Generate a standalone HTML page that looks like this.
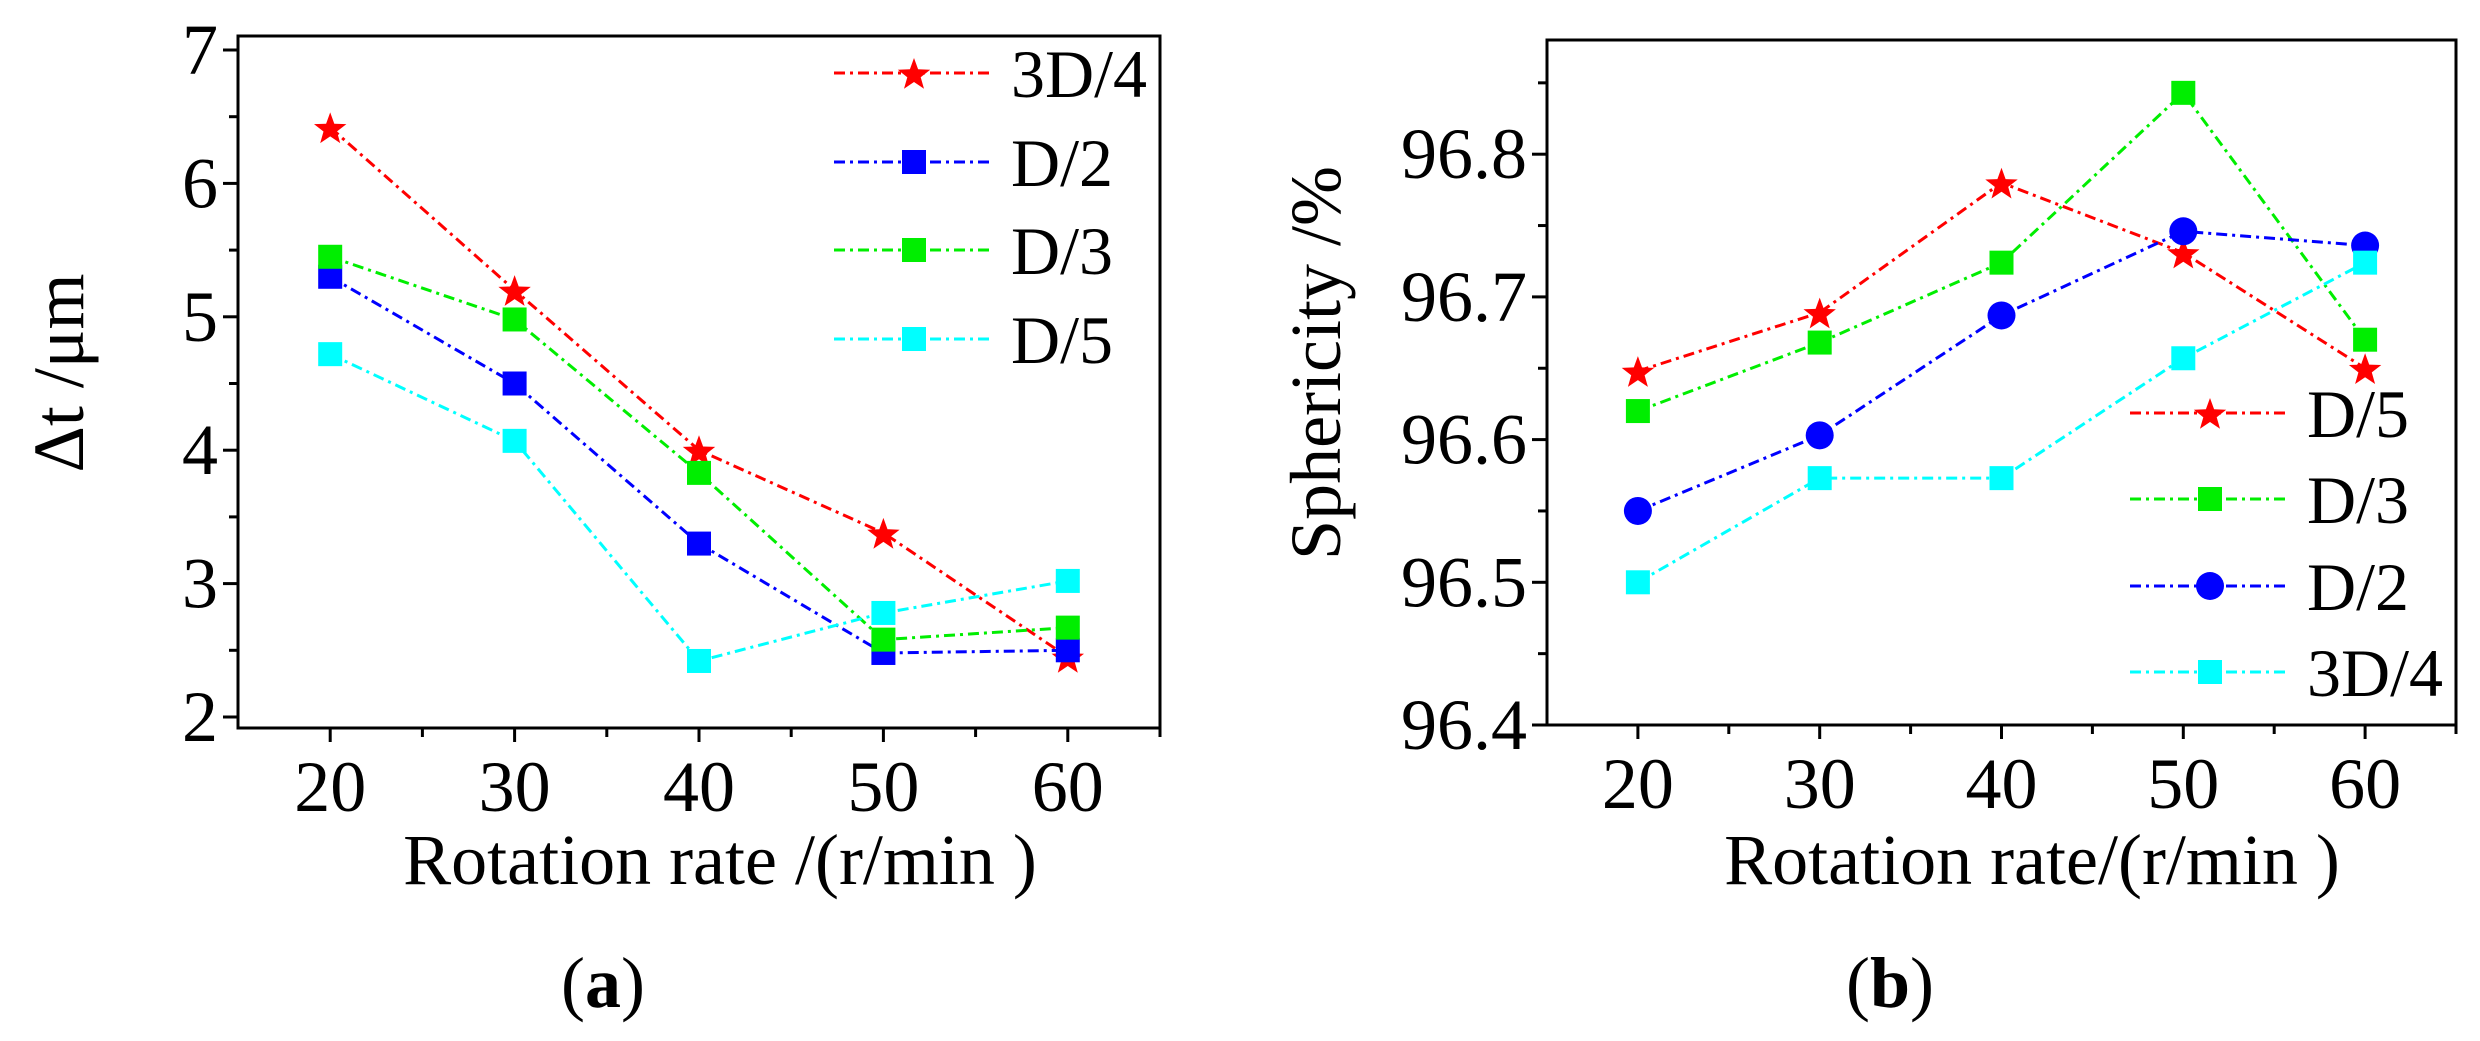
<!DOCTYPE html>
<html><head><meta charset="utf-8"><style>
html,body{margin:0;padding:0;background:#fff;}
svg, svg text{font-family:"Liberation Serif","Times New Roman","DejaVu Serif",serif;}
</style></head><body>
<svg id="chart" width="2480" height="1036" viewBox="0 0 2480 1036" xmlns="http://www.w3.org/2000/svg"></svg>
<script>
const categories = [20, 30, 40, 50, 60];
// Panel (a)
const aNames = ["3D/4", "D/2", "D/3", "D/5"];
const a3D4 = [6.42, 5.2, 4.0, 3.38, 2.45];
const aD2 = [5.3, 4.5, 3.3, 2.48, 2.5];
const aD3 = [5.45, 4.98, 3.83, 2.58, 2.67];
const aD5 = [4.72, 4.07, 2.42, 2.78, 3.02];
const aYTicks = [2, 3, 4, 5, 6, 7];
// Panel (b)
const bNames = ["D/5", "D/3", "D/2", "3D/4"];
const bD5 = [96.648, 96.689, 96.780, 96.731, 96.650];
const bD3 = [96.620, 96.668, 96.724, 96.843, 96.670];
const bD2 = [96.550, 96.603, 96.687, 96.746, 96.736];
const b3D4 = [96.500, 96.573, 96.573, 96.657, 96.724];
const bYTicks = [96.4, 96.5, 96.6, 96.7, 96.8];

const NS = "http://www.w3.org/2000/svg";
const svg = document.getElementById("chart");
function mk(tag, attrs, parent, text) {
  const e = document.createElementNS(NS, tag);
  for (const k in attrs) e.setAttribute(k, attrs[k]);
  if (text !== undefined) e.textContent = text;
  (parent || svg).appendChild(e);
  return e;
}
const DASH = "11,5,3,5";

function marker(g, type, x, y, color) {
  let m;
  if (type === "square") {
    m = mk("rect", {x: x - 12, y: y - 12, width: 24, height: 24, fill: color}, g);
  } else if (type === "circle") {
    m = mk("circle", {cx: x, cy: y, r: 14, fill: color}, g);
  } else {
    const pts = [];
    for (let i = 0; i < 10; i++) {
      const r = i % 2 ? 7 : 17;
      const a = -Math.PI / 2 + i * Math.PI / 5;
      pts.push((x + r * Math.cos(a)).toFixed(1) + "," + (y + 2 + r * Math.sin(a)).toFixed(1));
    }
    m = mk("polygon", {points: pts.join(" "), fill: color}, g);
  }
  
  
}

function panel(cfg) {
  const {L, R, T, B, xmin, xmax, ymin, ymax} = cfg;
  const sx = v => L + (v - xmin) / (xmax - xmin) * (R - L);
  const sy = v => B - (v - ymin) / (ymax - ymin) * (B - T);
  const g = mk("g", {});
  
  
  const frame = mk("rect", {x: L, y: T, width: R - L, height: B - T, fill: "none", stroke: "#000", "stroke-width": 3}, g);
  
  
  for (let v = xmin + 5; v <= xmax; v += 5) {
    const major = categories.includes(v);
    const x = sx(v);
    mk("line", {x1: x, y1: B, x2: x, y2: B + (major ? 14 : 9), stroke: "#000", "stroke-width": 3}, g);
    if (major) {
      const t = mk("text", {x: x, y: B + 83, "font-size": 72, "text-anchor": "middle"}, g, String(v));
      
      
    }
  }
  cfg.yTicks.forEach((v) => {
    const y = sy(v);
    mk("line", {x1: L - 15, y1: y, x2: L, y2: y, stroke: "#000", "stroke-width": 3}, g);
    const t = mk("text", {x: L - 20, y: y + 24, "font-size": 72, "text-anchor": "end"}, g, cfg.fmt(v));
    
    
    const mv = v + cfg.minor;
    if (mv < ymax) {
      const my = sy(mv);
      mk("line", {x1: L - 9, y1: my, x2: L, y2: my, stroke: "#000", "stroke-width": 3}, g);
    }
  });
  cfg.series.forEach(s => {
    const sg = mk("g", {}, g);
    
    
    const pts = s.values.map((v, i) => sx(categories[i]) + "," + sy(v)).join(" ");
    mk("polyline", {points: pts, fill: "none", stroke: s.color, "stroke-width": 3, "stroke-dasharray": DASH}, sg);
    s.values.forEach((v, i) => marker(sg, s.type, sx(categories[i]), sy(v), s.color));
  });
  const lg = mk("g", {}, g);
  
  
  cfg.series.slice().sort((a, b) => a.lorder - b.lorder).forEach((s, i) => {
    const y = cfg.legY[i];
    const e = mk("g", {}, lg);
    
    
    mk("line", {x1: cfg.legX, y1: y, x2: cfg.legX + 160, y2: y, stroke: s.color, "stroke-width": 3, "stroke-dasharray": DASH}, e);
    marker(e, s.type, cfg.legX + 80, y, s.color);
    mk("text", {x: cfg.legX + 177, y: y + 24, "font-size": 68}, e, s.label);
  });
  const xt = mk("text", {x: cfg.xTitleX, y: 884, "font-size": 72, "text-anchor": "middle"}, g, cfg.xTitle);
  
  
  const yt = mk("text", {x: 0, y: 0, "font-size": 72, "text-anchor": "middle", transform: `translate(${cfg.yTitleX},${cfg.yTitleY}) rotate(-90)`}, g, cfg.yTitle);
  
  
  const cap = mk("text", {x: cfg.capX, y: 1007, "font-size": 72, "text-anchor": "middle"}, g);
  
  
  mk("tspan", {}, cap, "(");
  mk("tspan", {"font-weight": "bold"}, cap, cfg.cap);
  mk("tspan", {}, cap, ")");
}

panel({
  name: "panel-a", L: 238, R: 1160, T: 36, B: 728, xmin: 15, xmax: 65,
  ymin: 2 - (728 - 717) / 133.4, ymax: 7 + (50 - 36) / 133.4,
  yTicks: aYTicks, minor: 0.5, fmt: v => String(v),
  series: [
    {label: aNames[0], values: a3D4, color: "#ff0000", type: "star", lorder: 0},
    {label: aNames[1], values: aD2, color: "#0000ff", type: "square", lorder: 1},
    {label: aNames[2], values: aD3, color: "#00ee00", type: "square", lorder: 2},
    {label: aNames[3], values: aD5, color: "#00ffff", type: "square", lorder: 3}
  ],
  legX: 834, legY: [73, 162, 250, 339],
  xTitle: "Rotation rate /(r/min )", xTitleX: 720,
  yTitle: "\u0394t /\u03bcm", yTitleX: 83, yTitleY: 373,
  cap: "a", capX: 603
});
panel({
  name: "panel-b", L: 1547, R: 2456, T: 40, B: 725, xmin: 15, xmax: 65,
  ymin: 96.4, ymax: 96.4 + (725 - 40) / 1427,
  yTicks: bYTicks, minor: 0.05, fmt: v => v.toFixed(1),
  series: [
    {label: bNames[0], values: bD5, color: "#ff0000", type: "star", lorder: 0},
    {label: bNames[1], values: bD3, color: "#00ee00", type: "square", lorder: 1},
    {label: bNames[2], values: bD2, color: "#0000ff", type: "circle", lorder: 2},
    {label: bNames[3], values: b3D4, color: "#00ffff", type: "square", lorder: 3}
  ],
  legX: 2130, legY: [413, 499, 586, 672],
  xTitle: "Rotation rate/(r/min )", xTitleX: 2032,
  yTitle: "Sphericity /%", yTitleX: 1340, yTitleY: 363,
  cap: "b", capX: 1890
});
</script>
</body></html>
